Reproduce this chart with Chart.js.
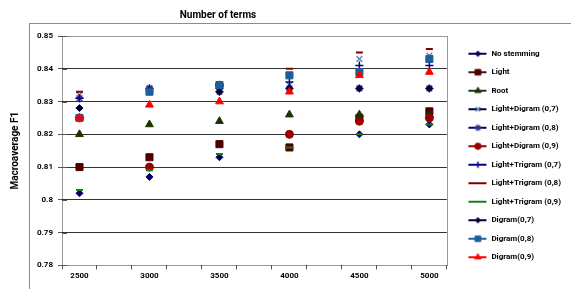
<!DOCTYPE html>
<html>
<head>
  <title>Number of terms</title>
  <script src="https://cdn.jsdelivr.net/npm/chart.js"></script>
  <style>
    body { margin: 0; background: #fff; }
    .container { position: relative; width: 571px; height: 289px; }
  </style>
</head>
<body>
  <div class="container">
    <canvas id="chart_terms"></canvas>
  </div>

  <script>
    // x categories (number of terms) and y tick labels
    const terms = [2500, 3000, 3500, 4000, 4500, 5000];
    const yTicks = [0.78, 0.79, 0.8, 0.81, 0.82, 0.83, 0.84, 0.85];

    // Macroaverage F1 per series
    const noStemming     = [0.802, 0.807, 0.813, 0.816, 0.820, 0.823];
    const light          = [0.810, 0.813, 0.817, 0.816, 0.825, 0.827];
    const root           = [0.820, 0.823, 0.824, 0.826, 0.826, 0.826];
    const lightDigram07  = [0.832, 0.834, 0.834, 0.835, 0.843, 0.844];
    const lightDigram08  = [0.831, 0.834, 0.833, 0.834, 0.834, 0.834];
    const lightDigram09  = [0.825, 0.810, 0.835, 0.820, 0.824, 0.825];
    const lightTrigram07 = [0.831, 0.834, 0.834, 0.836, 0.841, 0.841];
    const lightTrigram08 = [0.833, 0.834, 0.835, 0.840, 0.845, 0.846];
    const lightTrigram09 = [0.803, 0.809, 0.814, 0.816, 0.820, 0.823];
    const digram07       = [0.828, 0.833, 0.833, 0.834, 0.834, 0.834];
    const digram08       = [0.825, 0.833, 0.835, 0.838, 0.839, 0.843];
    const digram09       = [0.825, 0.829, 0.830, 0.833, 0.838, 0.839];

    const series = [
      { label: 'No stemming',          values: noStemming,     style: 'rectRot',  color: '#000066', line: '#000066', r: 3.5, bw: 1 },
      { label: 'Light',                values: light,          style: 'rect',     color: '#4d0000', line: '#4a1010', r: 5,   bw: 1 },
      { label: 'Root',                 values: root,           style: 'triangle', color: '#1a3300', line: '#1a3d1a', r: 4.5, bw: 1 },
      { label: 'Light+Digram (0,7)',   values: lightDigram07,  style: 'crossRot', color: '#6a8ab5', line: '#000033', r: 4,   bw: 1.5 },
      { label: 'Light+Digram (0,8)',   values: lightDigram08,  style: 'star',     color: '#333399', line: '#000066', r: 4,   bw: 1.5 },
      { label: 'Light+Digram (0,9)',   values: lightDigram09,  style: 'circle',   color: '#990000', line: '#990000', r: 4,   bw: 1 },
      { label: 'Light+Trigram (0,7)',  values: lightTrigram07, style: 'cross',    color: '#000080', line: '#000080', r: 4,   bw: 1.5 },
      { label: 'Light+Trigram (0,8)',  values: lightTrigram08, style: 'line',     color: '#800000', line: '#800000', r: 3.5, bw: 2 },
      { label: 'Light+Trigram (0,9)',  values: lightTrigram09, style: 'line',     color: '#1e7b1e', line: '#1e7b1e', r: 3.5, bw: 2 },
      { label: 'Digram(0,7)',          values: digram07,       style: 'rectRot',  color: '#000033', line: '#000033', r: 3.5, bw: 1 },
      { label: 'Digram(0,8)',          values: digram08,       style: 'rect',     color: '#1f5c99', line: '#2060a0', r: 5,   bw: 1 },
      { label: 'Digram(0,9)',          values: digram09,       style: 'triangle', color: '#ff0000', line: '#ff0000', r: 4.5, bw: 1 }
    ];

    const fontFamily = 'Roboto, "Noto Sans", sans-serif';

    // legend icon: a short line with the marker in the middle (like Excel)
    const iconW = 30;
    function makeIcon(s) {
      const c = document.createElement('canvas');
      c.width = iconW;
      c.height = 10;
      const g = c.getContext('2d');
      g.strokeStyle = s.line;
      g.lineWidth = 2;
      g.beginPath();
      g.moveTo(11, 5);
      g.lineTo(iconW - 1, 5);
      g.stroke();
      g.fillStyle = s.color;
      g.strokeStyle = s.color;
      g.lineWidth = s.bw;
      Chart.helpers.drawPoint(g, { pointStyle: s.style, rotation: 0, radius: s.r * 0.8, borderWidth: s.bw }, 20.5, 5);
      return c;
    }
    const icons = series.map(makeIcon);

    const datasets = series.map((s, i) => ({
      label: s.label,
      data: terms.map((t, j) => ({ x: t, y: s.values[j] })),
      showLine: false,
      pointStyle: s.style,
      pointRadius: s.r,
      pointBorderWidth: s.bw,
      pointBackgroundColor: s.color,
      pointBorderColor: s.color,
      order: series.length - i   // later series drawn on top, like Excel
    }));

    const near = (a, b) => Math.abs(a - b) < 1e-6;

    const framePlugin = {
      id: 'frame',
      afterLayout(chart) {
        // the legend sits a little above the centre in the original
        chart.legend.top -= 4;
        chart.legend.bottom -= 4;
      },
      beforeDraw(chart) {
        const ctx = chart.ctx;
        ctx.save();
        ctx.fillStyle = '#fff';
        ctx.fillRect(0, 0, chart.width, chart.height);
        ctx.strokeStyle = '#8c8c8c';
        ctx.lineWidth = 1;
        ctx.strokeRect(29.5, 23.5, chart.width, chart.height);
        ctx.restore();
      },
      beforeDatasetsDraw(chart) {
        const a = chart.chartArea;
        const ctx = chart.ctx;
        ctx.save();
        ctx.strokeStyle = '#333';
        ctx.setLineDash([1, 1]);
        ctx.lineWidth = 1;
        ctx.strokeRect(Math.round(a.left) + 0.5, Math.round(a.top) + 0.5,
          Math.round(a.right - a.left), Math.round(a.bottom - a.top));
        // small tick marks crossing into the plot on the y axis
        ctx.setLineDash([]);
        ctx.strokeStyle = '#555';
        const y = chart.scales.y;
        ctx.beginPath();
        yTicks.forEach((v) => {
          const py = Math.round(y.getPixelForValue(v)) + 0.5;
          ctx.moveTo(a.left, py);
          ctx.lineTo(a.left + 5, py);
        });
        ctx.stroke();
        ctx.restore();
      },
      afterDraw(chart) {
        const ctx = chart.ctx;
        ctx.save();
        ctx.fillStyle = '#000';
        ctx.font = 'bold 10px ' + fontFamily;
        ctx.textAlign = 'center';
        ctx.textBaseline = 'middle';
        ctx.fillText('Number of terms', 218, 15);
        ctx.restore();
      }
    };

    new Chart(document.getElementById('chart_terms'), {
      type: 'scatter',
      data: { datasets: datasets },
      options: {
        responsive: true,
        maintainAspectRatio: false,
        animation: false,
        layout: { padding: { top: 36, bottom: 6, left: 0, right: 0 } },
        scales: {
          x: {
            type: 'linear',
            min: 2375,
            max: 5125,
            afterBuildTicks: (scale) => {
              const t = [];
              for (let v = 2375; v <= 5125; v += 125) t.push({ value: v });
              scale.ticks = t;
            },
            border: { display: false },
            grid: {
              drawOnChartArea: false,
              tickLength: 4,
              tickColor: (ctx) => (ctx.tick && (ctx.tick.value - 2375) % 250 === 0 ? '#555' : 'rgba(0,0,0,0)')
            },
            ticks: {
              autoSkip: false,
              maxRotation: 0,
              padding: 2,
              color: '#000',
              font: { family: fontFamily, size: 8, weight: 'bold' },
              callback: (v) => (terms.includes(v) ? String(v) : '')
            }
          },
          y: {
            min: 0.78,
            max: 0.85,
            afterBuildTicks: (scale) => {
              scale.ticks = yTicks.map((v) => ({ value: v }));
            },
            afterFit: (scale) => { scale.width = 62; },
            border: { display: false },
            grid: {
              color: (ctx) => (ctx.tick && (near(ctx.tick.value, 0.78) || near(ctx.tick.value, 0.85)) ? 'rgba(0,0,0,0)' : '#333'),
              tickColor: '#555',
              tickLength: 4
            },
            ticks: {
              padding: 5,
              color: '#000',
              font: { family: fontFamily, size: 8, weight: 'bold' },
              callback: (v) => String(+v.toFixed(2))
            },
            title: {
              display: true,
              text: 'Macroaverage F1',
              color: '#000',
              font: { family: fontFamily, size: 10, weight: 'bold' },
              padding: { top: 9, bottom: 0 }
            }
          }
        },
        plugins: {
          tooltip: { enabled: false },
          legend: {
            position: 'right',
            labels: {
              usePointStyle: true,
              pointStyleWidth: iconW,
              padding: 10.5,
              color: '#000',
              font: { family: fontFamily, size: 8, weight: 'bold' },
              generateLabels: (chart) => chart.data.datasets.map((ds, i) => ({
                text: ds.label,
                pointStyle: icons[i],
                fillStyle: series[i].color,
                strokeStyle: series[i].color,
                lineWidth: 0,
                hidden: false,
                datasetIndex: i
              }))
            }
          }
        }
      },
      plugins: [framePlugin]
    });
  </script>
</body>
</html>
